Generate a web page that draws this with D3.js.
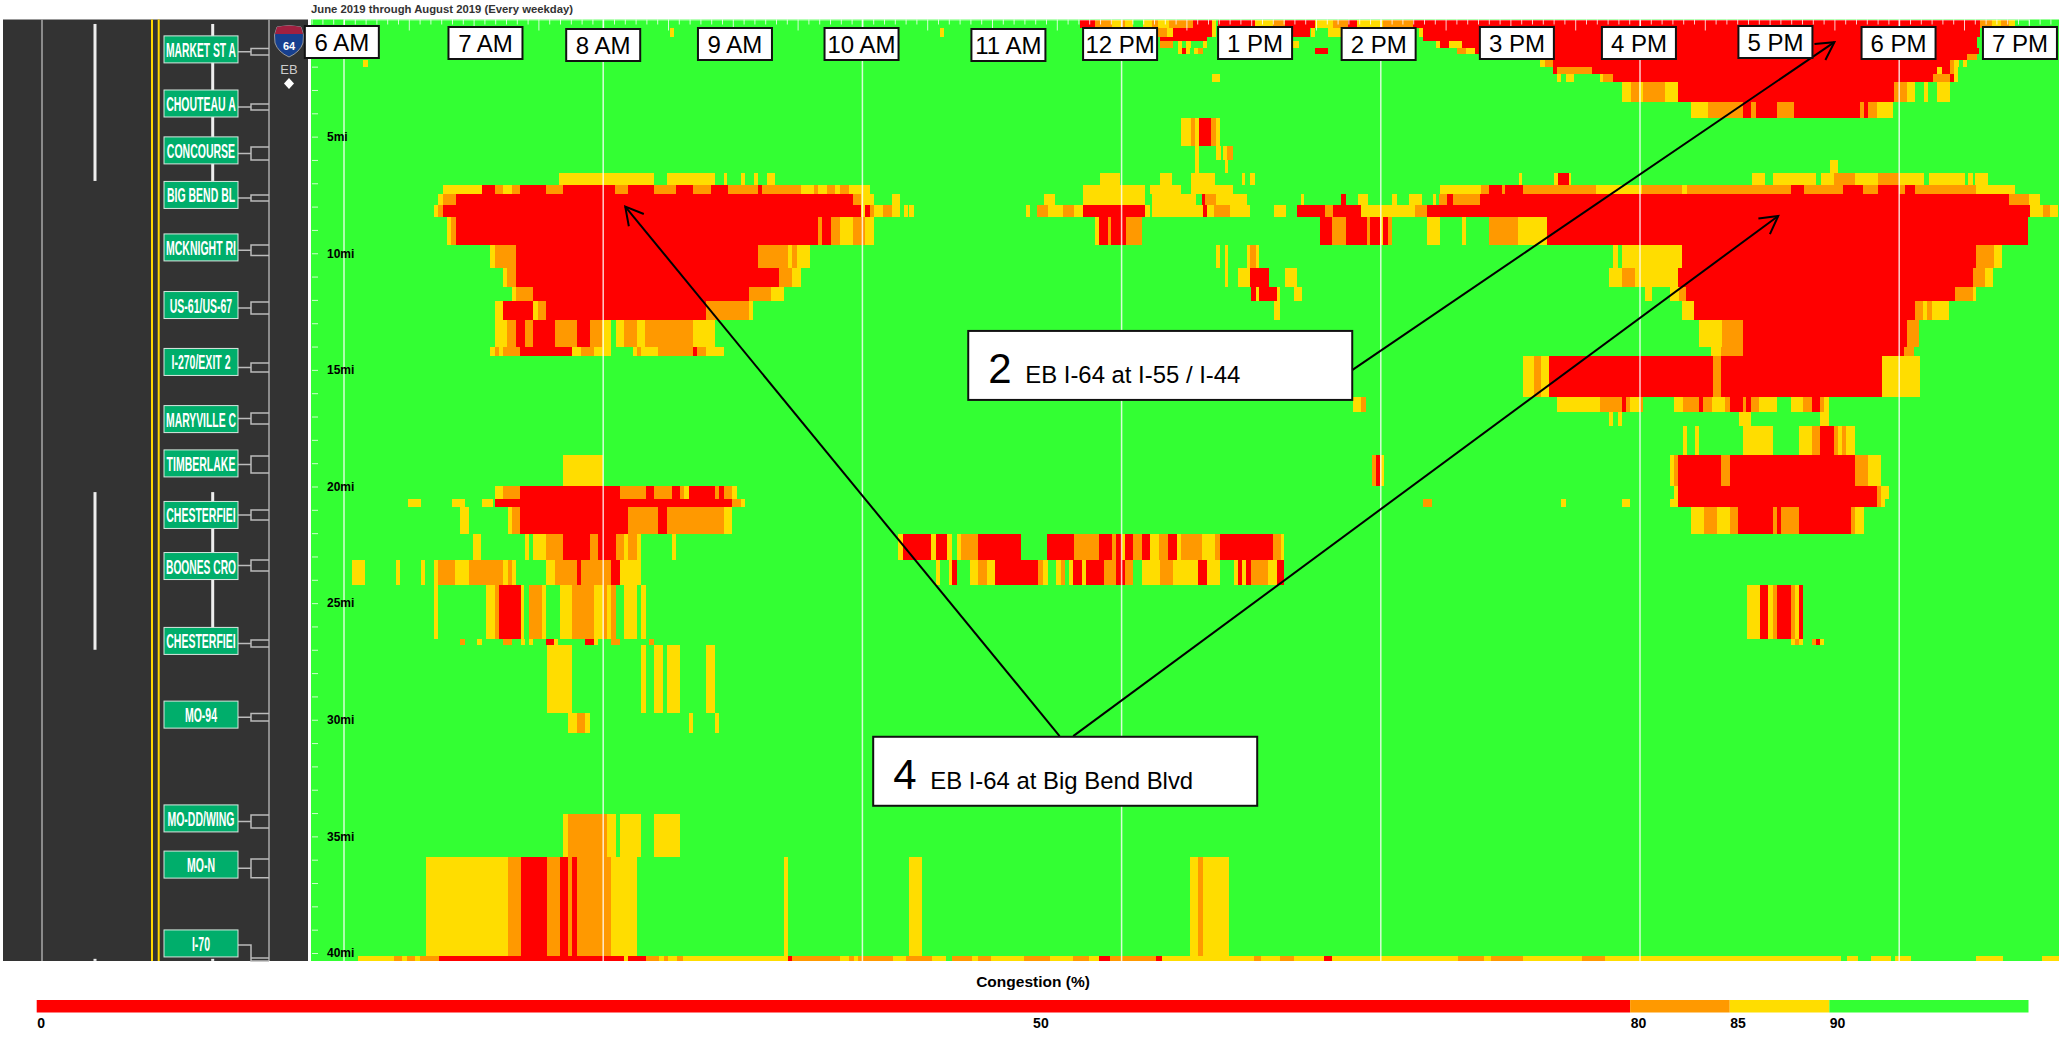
<!DOCTYPE html>
<html>
<head>
<meta charset="utf-8">
<script src="https://cdnjs.cloudflare.com/ajax/libs/d3/7.8.5/d3.min.js"></script>
<style>
  body { margin: 0; background: #fff; }
  svg { display: block; font-family: "Liberation Sans", Arial, sans-serif; }
</style>
</head>
<body>
<div id="chart"></div>
<script>
// congestion class values, coloured by the threshold scale below
const R = 65, O = 83, Y = 88, FREE = 95;

// mile boundaries of the road segments (rows of the heatmap)
const rowEdges = [0, .33, .72, .90, 1.21, 1.47, 1.71, 2.00, 2.33, 2.66, 3.53, 4.21, 5.40, 6.00, 6.56, 7.07,
    7.47, 7.93, 8.45, 9.65, 10.62, 11.45, 12.05, 12.86, 14.02, 14.39, 16.17, 16.79, 17.41, 18.65, 19.98,
    20.55, 20.87, 22.04, 23.14, 24.24, 26.54, 26.81, 29.71, 30.57, 34.04, 35.90, 40.13, 40.34];

// congested spans per row: [start, end, value], minutes after 6 AM
const rowSpans = [
    [[340.8,347.7,R],[347.7,355.4,O],[355.4,359.7,Y],[359.7,361.6,O],[361.6,365.4,Y],[369.8,374,Y],[374,377,O],[377,382,Y],[382,393.2,O],[393.2,401.7,R],[401.7,403.7,Y],[404.8,421.8,R],[421.8,430.3,Y],[430.3,435.6,O],[435.6,449.5,R],[449.5,458,Y],[458,465,O],[465,468.9,R],[468.9,481,Y],[481,495,O],[495,757.4,R],[757.4,763,O],[763,767,Y],[767,771,O],[771,773.6,Y]],
    [[151,153,Y],[276,278,Y],[377,381,O],[381,384,Y],[384,401.7,R],[401.7,403.7,Y],[439.5,447.2,R],[447.5,449.5,Y],[455.7,461.9,Y],[497.8,499.7,Y],[499.7,757.4,R]],
    [[377.8,399.4,R],[499.7,756,R]],
    [[377.8,384,O],[386,388,Y],[390,392,Y],[397.9,399.4,Y],[439.5,441.9,Y],[505.5,507.5,Y],[507.5,511.7,R],[511.7,517.4,Y],[517.4,755.8,R]],
    [[386,387.8,Y],[387.8,389.8,R],[389.8,391.6,Y],[393.5,395.5,Y],[395.5,397.9,O],[449.5,455.7,R],[515.4,519.4,O],[519.4,523.6,Y],[523.6,757,R]],
    [[526,751.5,R],[751.5,755.8,O]],
    [[9,11,Y],[553.7,556,Y],[556,559.6,O],[559.6,743.5,R],[743.5,745.5,O],[745.5,747.5,Y],[749.7,751.5,Y]],
    [[559.6,561.7,R],[561.7,577.6,O],[577.6,737.3,R],[737.3,739.6,Y],[739.6,743.5,R],[743.5,745.5,O],[745.5,747.4,Y]],
    [[401.7,405.6,Y],[561.7,563.6,Y],[565.7,569.6,Y],[581.4,583,Y],[583,587.6,O],[587.6,735.8,R],[735.8,743.5,O],[743.5,745.5,R],[745.5,747.4,Y]],
    [[591.7,595.7,Y],[595.7,599.7,O],[599.7,601.5,Y],[601.5,611.6,O],[611.6,617.4,Y],[617.4,717.6,R],[717.6,723.4,O],[723.4,727.3,Y],[731.5,733.5,Y],[737.6,743.5,Y]],
    [[623.6,631.6,Y],[631.6,647.8,O],[647.8,651.4,R],[651.4,653.5,O],[653.5,663.6,R],[663.6,671.4,O],[671.4,701.8,R],[701.8,703.7,O],[703.7,705.7,R],[705.7,709.5,O],[709.5,717.3,Y]],
    [[387.5,392,Y],[392,394,O],[394,396,Y],[396,401.6,R],[401.6,403.5,O],[403.5,405.4,Y]],
    [[394,396,Y],[403.8,406,Y],[407,409,Y],[409,411.6,O]],
    [[394,396,Y],[407.9,409.4,Y],[687.8,691.6,Y]],
    // 6.56 mi, just upstream of Big Bend
    [[99.7,143.5,Y],[149.5,171.8,Y],[176,177.3,Y],[183.8,185.6,Y],[189.8,191.7,Y],[195.8,199.5,Y],[350,359.4,Y],[377.8,383.5,Y],[391.9,403.2,Y],[415.7,417.2,Y],[419.4,421.6,Y],[544,545.5,Y],[560,562,Y],[562,567,R],[567,568,Y],[651.8,657.8,Y],[661.8,681.6,Y],[683.8,690,Y],[690,699.4,O],[699.4,710.3,Y],[710.3,719.7,O],[719.7,731.6,Y],[733.8,750.4,Y],[752,754,Y],[755,761.3,Y]],
    [[45.7,63.7,Y],[63.7,69.7,R],[69.7,73.7,O],[73.7,77.7,Y],[77.7,81.7,O],[81.7,93.6,R],[93.6,101.6,O],[101.6,125.5,R],[125.5,131.6,O],[131.6,143.5,R],[143.5,153.6,O],[153.6,161.7,R],[161.7,169.7,O],[169.7,177.6,R],[177.6,191.7,O],[191.7,193.6,R],[193.6,211.4,O],[211.4,217.7,Y],[217.7,219.6,O],[219.6,223.6,Y],[223.6,227.5,O],[227.5,229.6,Y],[229.6,233.6,O],[233.6,243.5,Y],[341.9,371,Y],[373,387.5,Y],[392,411.6,Y],[507.6,526.4,Y],[526.4,530,O],[530,536,R],[536,537.5,O],[537.5,546,R],[546,579.6,O],[579.6,601,Y],[601,604.6,O],[604.6,619.6,O],[619.6,621.8,Y],[621.8,669.7,O],[669.7,676,R],[676,694,O],[694,703.4,R],[703.4,710.3,O],[710.3,719.7,R],[719.7,722.8,O],[722.8,727.5,R],[727.5,755.7,O],[755.7,773.8,Y]],
    [[43.6,45.7,Y],[45.7,51.7,O],[51.7,235.5,R],[235.5,239.5,O],[239.5,245.4,Y],[253.8,257.3,Y],[324,329.3,Y],[341.9,371,Y],[374,394.4,Y],[397,398.5,R],[398.5,403.8,O],[403.8,417.9,Y],[443,444.5,Y],[461.7,463.9,R],[469.5,474,Y],[485,487.6,Y],[493,499.2,Y],[504,505.5,Y],[507,510.5,O],[510.5,513.5,R],[513.5,526,O],[526,771,R],[771,780,O],[780,785.4,Y]],
    [[41.7,43.6,Y],[43.6,45.7,O],[45.7,239.5,R],[239.5,241.4,Y],[241.4,243.5,R],[243.5,245.4,O],[245.4,249.5,Y],[249.5,253.5,O],[253.5,257.3,Y],[259.4,261.3,Y],[261.8,263.7,Y],[315.6,317.8,Y],[321,326,O],[326,333,Y],[333,338,O],[338,341.9,Y],[341.9,371,R],[371,373,Y],[374,397.5,Y],[397.5,399.4,R],[399.4,403,Y],[403,410,O],[410,419.4,Y],[430.4,436,Y],[441.3,454,R],[454,458,O],[458,471,R],[471,496,Y],[496,501.4,O],[501.4,780.7,R],[780.7,786.5,Y],[786.5,790,O],[790,793.3,Y]],
    [[47.6,49.7,Y],[49.7,51.7,O],[51.7,219.6,R],[219.6,221.5,O],[221.5,225.5,R],[225.5,229.6,O],[229.6,235.5,Y],[235.5,241.4,O],[241.4,245.4,Y],[347.5,349.7,Y],[349.7,353.7,R],[353.7,355.3,O],[355.3,362.2,R],[362.2,369.4,O],[451.7,457.6,R],[457.6,463.9,O],[463.9,473.5,R],[473.5,475,O],[475,479.5,R],[479.5,481,Y],[481,483.5,R],[483.5,485,O],[501.4,507.6,Y],[517.7,519.5,Y],[530.2,543.6,O],[543.6,557,Y],[557,779.8,R]],
    [[67.7,69.7,Y],[69.7,79.6,O],[79.6,191.7,R],[191.7,205.5,O],[205.5,207.6,Y],[207.6,209.5,O],[209.5,215.6,Y],[403.8,405.7,Y],[407.9,409.4,Y],[417.9,419.4,Y],[419.4,422,O],[422,423.5,Y],[587.7,589.6,Y],[591.5,619.6,Y],[619.6,755.7,R],[755.7,764,O],[764,767.6,Y]],
    [[73.7,75.6,Y],[75.6,79.6,O],[79.6,201.6,R],[201.6,207.6,O],[207.6,211.4,Y],[407.9,409.4,Y],[413.8,419.4,Y],[419.4,428.2,R],[435.7,441.3,Y],[585.8,591.5,Y],[591.5,597.7,O],[597.7,617.4,Y],[617.4,754,R],[754,759.7,O],[759.7,763.5,Y]],
    [[77.7,79.6,Y],[79.6,87.6,O],[87.6,187.5,R],[187.5,197.6,O],[197.6,203.6,Y],[420,422,R],[422,423.5,Y],[423.5,432,R],[432,433.5,Y],[439.8,443.5,Y],[602.4,605.5,Y],[614,618,Y],[618,621.5,O],[621.5,745.7,R],[745.7,754,O],[754,755.5,Y]],
    [[69.7,73.7,Y],[73.7,87.6,R],[87.6,89.7,Y],[89.7,93.6,O],[93.6,167.6,R],[167.6,187.5,O],[187.5,189.5,Y],[430.4,433.5,Y],[619.6,625,Y],[625,727.5,R],[727.5,731,O],[731,733,Y],[733,735,O],[735,743,Y]],
    [[69.7,75.6,Y],[75.6,79.6,O],[79.6,83.6,R],[83.6,87.6,O],[87.6,97.8,R],[97.8,107.7,O],[107.7,113.7,R],[113.7,119.6,O],[119.6,123.6,Y],[125.7,129.7,Y],[129.7,135.6,O],[135.6,139.5,Y],[139.5,161.7,O],[161.7,171.8,Y],[627.4,637.8,Y],[637.8,647.8,O],[647.8,723.5,R],[723.5,729,O]],
    [[67.7,69.7,Y],[69.7,71.6,O],[71.6,73.7,Y],[73.7,81.7,O],[81.7,105.6,R],[105.6,107.7,Y],[107.7,109.6,Y],[109.6,115.6,O],[115.6,123.6,Y],[133.7,135.6,Y],[135.6,137.6,O],[137.6,145.6,Y],[145.6,161.5,O],[161.5,163.5,R],[163.5,167.6,O],[167.6,175.7,Y],[633,637.5,Y],[637.5,647.8,O],[647.8,722,R],[722,727,O]],
    // 14.39 mi
    [[546,550.8,Y],[550.8,554,O],[554,557.7,Y],[557.7,633.7,R],[633.7,637.5,O],[637.5,711.9,R],[711.9,729.7,Y]],
    [[467.3,471,Y],[471,473.2,O],[561.6,581.4,Y],[581.4,591.5,O],[591.5,593.5,R],[593.5,595.3,O],[595.3,600,Y],[600,601.5,O],[615.6,619.7,Y],[619.7,627.3,O],[627.3,629.2,R],[629.2,633.5,O],[633.5,639.5,Y],[639.5,641.6,O],[641.6,647.7,R],[647.7,649.3,O],[649.3,651.5,R],[651.5,655.3,O],[655.3,663.4,Y],[669.7,675.5,Y],[675.5,679.6,O],[679.6,683.4,R],[683.4,685.4,O],[685.4,687.3,Y]],
    [[585.7,587.5,Y],[589.7,591.5,Y],[645.8,651.4,Y],[683.4,687.5,Y]],
    [[619.7,621.7,Y],[625.6,627.3,Y],[647.7,661.4,Y],[673.5,679.6,Y],[679.6,683.4,O],[683.4,689.6,R],[689.6,691.5,O],[691.5,693.6,Y],[693.6,695.3,O],[695.3,699.4,Y]],
    [[101.6,119.9,Y],[476,477.7,O],[477.7,479.6,R],[479.6,481.4,Y],[613.7,615.6,Y],[615.6,617.4,O],[617.4,637.7,R],[637.7,641.5,O],[641.5,699.7,R],[699.7,705.5,O],[705.5,711.6,Y]],
    // 20 mi, Chesterfield
    [[69.7,73.5,Y],[73.5,81.5,O],[81.5,127.8,R],[127.8,139.6,O],[139.6,143.5,R],[143.5,151.8,O],[151.8,155.6,R],[155.6,157.6,O],[157.6,159.7,Y],[159.7,171.8,R],[171.8,173.8,O],[173.8,175.9,R],[175.9,179.8,O],[179.8,181.9,Y],[615.6,617.4,Y],[617.4,709.6,R],[709.6,711.6,O],[711.6,715.4,Y]],
    [[29.8,35.7,Y],[49.9,55.8,Y],[63.8,68.8,Y],[69.7,179.8,R],[179.8,183.6,O],[183.6,185.7,Y],[499.6,503.5,O],[563.6,565.6,Y],[591.5,595.4,Y],[613.7,617.4,Y],[617.4,709.6,R],[709.6,711.6,O],[711.6,713.4,Y]],
    [[53.7,57.8,Y],[75.9,77.8,Y],[77.8,81.5,O],[81.5,131.7,R],[131.7,145.6,O],[145.6,149.7,R],[149.7,175.7,O],[175.7,179.5,Y],[623.8,629.6,Y],[629.6,635.7,O],[635.7,641.6,Y],[641.6,645.6,O],[645.6,661.4,R],[661.4,663.4,O],[663.4,665.5,R],[665.5,673.5,O],[673.5,697.7,R],[697.7,699.7,O],[699.7,703.5,Y]],
    // 22 mi, eleven o'clock band starts here
    [[59.9,63.5,Y],[83.6,85.6,Y],[87.7,93.6,Y],[93.6,101.6,O],[101.6,113.9,R],[113.9,117.8,O],[117.8,125.8,R],[125.8,129.6,O],[129.6,131.7,Y],[131.7,135.5,O],[135.5,137.6,Y],[151.8,153.8,Y],[256.3,258.6,Y],[258.6,271.9,R],[271.9,273.9,Y],[273.9,279.3,R],[279.3,281.4,Y],[283.8,285.6,Y],[285.6,293.5,O],[293.5,313.6,R],[325.4,337.8,R],[337.8,349.6,O],[349.6,355.5,R],[355.5,357.6,O],[357.6,360,R],[360,361.5,Y],[361.5,365.5,R],[365.5,369.4,O],[369.4,373.2,R],[373.2,377.2,Y],[377.2,381.6,O],[381.6,385.6,R],[385.6,387.7,Y],[387.7,397.4,O],[397.4,403.4,Y],[403.4,405.7,O],[405.7,429.9,R],[429.9,434,O],[434,435.2,Y]],
    [[3.8,9.7,Y],[23.9,25.7,Y],[35.7,37.5,Y],[41.6,43.4,Y],[43.4,51.6,O],[51.6,57.8,Y],[57.8,73.5,O],[73.5,75.7,Y],[75.7,77.7,O],[77.7,79.7,Y],[93.6,97.7,Y],[97.7,107.8,O],[107.8,109.8,R],[109.8,123.7,O],[123.7,127.8,R],[127.8,137.6,Y],[274,275.8,Y],[280,281.7,Y],[281.7,283.8,R],[289.7,293.5,Y],[293.5,297.9,O],[297.9,301.5,Y],[301.5,321.5,R],[321.5,323.5,O],[323.5,325.7,Y],[329.8,331.9,Y],[331.9,333.7,O],[335.5,337.5,Y],[337.5,341.6,R],[341.6,343.7,Y],[343.7,351.7,R],[351.7,357.6,O],[357.6,361.4,R],[361.4,365.5,O],[369.4,377.7,Y],[377.7,383.6,O],[383.6,395.4,Y],[395.4,399.5,R],[399.5,405.7,Y],[412,413.7,Y],[413.7,415.7,R],[415.7,417.8,Y],[417.8,419.8,R],[419.8,427.9,O],[427.9,432,Y],[432,435.2,R]],
    [[41.6,43.4,Y],[65.8,69.7,Y],[69.7,71.7,O],[71.7,81.8,R],[81.8,83.5,Y],[85.6,91.8,O],[91.8,93.6,Y],[99.8,105.7,Y],[105.7,115.7,O],[115.7,119.9,Y],[119.9,121.7,O],[121.7,123.7,Y],[123.7,125.8,O],[129.6,135.5,Y],[137.6,139.6,Y],[649.5,655.5,Y],[655.5,659.4,R],[659.4,661.6,Y],[661.6,663.6,O],[663.6,669.7,R],[669.7,671.7,O],[671.7,673.6,Y],[673.6,675.6,R]],
    [[53.7,55.8,O],[61.7,63.8,Y],[73.5,77.6,O],[81.8,83.8,Y],[85.6,87.6,Y],[93.6,97.1,R],[97.1,99,Y],[111.6,115.7,R],[115.7,117.6,Y],[123.7,127.8,O],[141.4,143.5,O],[669.7,671.7,Y],[671.7,673.6,O],[673.6,675.6,Y],[679.6,681.6,O],[681.6,683.4,R],[683.4,685.4,Y]],
    [[93.9,105.7,Y],[137.6,139.6,Y],[143.5,147.6,Y],[149.7,155.6,Y],[167.7,171.8,Y]],
    [[103.6,107.8,Y],[107.8,111.6,O],[111.6,113.7,Y],[159.7,161.5,Y],[171.8,173.6,Y]],
    [],
    // 34 mi, MO-DD
    [[101.6,103.6,Y],[103.6,121.7,O],[121.7,125.8,Y],[127.8,137.6,Y],[143.5,155.6,Y]],
    [[37.8,75.9,Y],[75.9,81.8,O],[81.8,93.9,R],[93.9,99.8,O],[99.8,103.6,R],[103.6,105.7,O],[105.7,107.8,R],[107.8,123.7,O],[123.7,135.5,Y],[203.7,205.5,Y],[261.6,267.5,Y],[391.5,395.4,Y],[395.4,397.7,O],[397.7,409.6,Y]],
    // last strip at the bottom edge
    [[6.7,23,Y],[23,27,O],[27,29,Y],[29,33,O],[33,35,Y],[35,43.8,O],[43.8,129.5,R],[129.5,131.5,Y],[131.5,139.8,R],[139.8,146,O],[146,148,Y],[148,150,O],[150,154,Y],[154,156.9,O],[156.9,205.5,Y],[205.5,207.3,R],[207.3,229.8,O],[229.8,234,Y],[234,236,O],[236,238,Y],[238,254,O],[254,260,Y],[260,272,O],[272,278.5,Y],[281.5,290.6,O],[290.6,293.7,Y],[293.7,299.7,O],[299.7,315,Y],[315,327,O],[327,337.4,Y],[337.4,345,O],[345,349.6,Y],[349.6,354.5,R],[354.5,375.7,O],[375.7,378.8,R],[378.8,421.3,Y],[421.3,424.4,O],[424.4,433.5,Y],[433.5,439.6,O],[439.6,453.6,Y],[453.6,457.2,R],[457.2,515.6,Y],[515.6,527.7,O],[527.7,530.8,Y],[530.8,546,O],[546,573.3,Y],[573.3,583.7,O],[583.7,688.9,Y],[689,693,Y],[696,701,Y],[707,716.2,Y],[718,725.3,Y],[755.7,767.9,Y],[786,794,Y]]
];

// legend
const legendStops = [0, 80, 85, 90, 100];
const legendTicks = [0, 50, 80, 85, 90];

// time labels, centred by hand in the original (minutes after 6 AM)
const hourLabels = ["6 AM", "7 AM", "8 AM", "9 AM", "10 AM", "11 AM", "12 PM", "1 PM", "2 PM", "3 PM", "4 PM", "5 PM", "6 PM", "7 PM"];
const hourLabelMinutes = [-1, 65.5, 120, 181, 239.6, 307.6, 359.3, 421.8, 479, 543, 599.5, 662.7, 719.7, 775.9];
const hourLabelTops = [26, 27, 29, 28, 28, 29, 28, 27, 28, 27, 27, 26, 27, 27];

// road signs: name, mile of the sign centre, ramp bracket from/to in miles
const signNames = ["MARKET ST A", "CHOUTEAU A", "CONCOURSE", "BIG BEND BL", "MCKNIGHT RI", "US-61/US-67", "I-270/EXIT 2", "MARYVILLE C", "TIMBERLAKE", "CHESTERFIEI", "BOONES CRO", "CHESTERFIEI", "MO-94", "MO-DD/WING", "MO-N", "I-70"];
const signMiles = [1.26, 3.58, 5.59, 7.50, 9.75, 12.22, 14.66, 17.11, 19.01, 21.22, 23.41, 26.62, 29.78, 34.23, 36.21, 39.59];
const rampFrom = [1.22, 3.60, 5.44, 7.50, 9.65, 12.09, 14.71, 16.85, 18.69, 21.01, 23.15, 26.58, 29.73, 34.08, 35.97, 40.21];
const rampTo = [1.50, 3.86, 6.00, 7.76, 10.10, 12.60, 15.09, 17.32, 19.42, 21.44, 23.62, 26.88, 30.05, 34.64, 36.77, 40.34];
const laneDashes = [[.17, 6.9], [20.24, 27.0], [40.25, 40.34]];

const width = 2059, height = 1037;
const plot = {left: 311, right: 2059, top: 19.5, bottom: 961};

const svg = d3.select("#chart").append("svg")
    .attr("width", width)
    .attr("height", height);

svg.append("defs").append("marker")
    .attr("id", "arrow")
    .attr("markerUnits", "userSpaceOnUse")
    .attr("viewBox", "-20 -12 22 24")
    .attr("refX", 0).attr("refY", 0)
    .attr("markerWidth", 22).attr("markerHeight", 24)
    .attr("orient", "auto")
  .append("path")
    .attr("d", "M-17.5,-9.7L0,0L-17.5,9.7")
    .attr("fill", "none")
    .attr("stroke", "#000")
    .attr("stroke-width", 2);

// scales
const xScale = d3.scaleLinear().domain([0, 780]).range([344, 344 + 2.16 * 780]);
const yScale = d3.scaleLinear().domain([0, 40]).range([20, 953]);
const colorScale = d3.scaleThreshold()
    .domain([80, 85, 90])
    .range(["#ff0000", "#ff9900", "#ffdd00", "#33ff33"]);
const legendScale = d3.scaleLinear().domain([0, 100]).range([36.7, 2028.5]);

// heatmap
svg.append("rect")
    .attr("x", plot.left).attr("y", plot.top)
    .attr("width", plot.right - plot.left).attr("height", plot.bottom - plot.top)
    .attr("fill", colorScale(FREE));

const cells = rowSpans.flatMap((spans, i) => spans.map(([start, end, value]) => ({
    start, end, value, from: rowEdges[i], to: rowEdges[i + 1]
})));

svg.append("g").selectAll("rect")
    .data(cells)
    .join("rect")
        .attr("x", d => xScale(d.start))
        .attr("y", d => yScale(d.from))
        .attr("width", d => xScale(d.end) - xScale(d.start))
        .attr("height", d => yScale(d.to) - yScale(d.from))
        .attr("fill", d => colorScale(d.value))
        .attr("shape-rendering", "crispEdges");

// even hour gridlines
const gridMinutes = d3.range(0, 780, 120);
svg.append("g").selectAll("line")
    .data(gridMinutes)
    .join("line")
        .attr("x1", d => xScale(d)).attr("x2", d => xScale(d))
        .attr("y1", plot.top).attr("y2", plot.bottom)
        .attr("stroke", "#fff")
        .attr("stroke-opacity", 0.8)
        .attr("stroke-width", 1.5);

// top time ticks, every 5 minutes, longer on the half hour
const timeAxis = svg.append("g")
    .attr("transform", `translate(0,${plot.top})`)
    .call(d3.axisBottom(xScale)
        .tickValues(d3.range(-15, 795, 5))
        .tickFormat("")
        .tickSize(5));
timeAxis.select(".domain").attr("stroke", "#fff").attr("opacity", 0.6);
timeAxis.selectAll(".tick line")
    .attr("stroke", "#fff")
    .attr("stroke-opacity", 0.8)
    .attr("y2", d => d % 30 === 0 ? 11 : 5);

// mile axis inside the plot
const mileAxis = svg.append("g")
    .attr("transform", `translate(${plot.left + 1},0)`)
    .call(d3.axisRight(yScale)
        .tickValues(d3.range(1, 41))
        .tickSize(6)
        .tickPadding(9)
        .tickFormat(d => d % 5 === 0 ? d + "mi" : ""));
mileAxis.select(".domain").remove();
mileAxis.selectAll(".tick line").attr("stroke", "#fff").attr("stroke-opacity", 0.75);
mileAxis.selectAll(".tick text")
    .attr("fill", "#000")
    .attr("font-family", "Liberation Sans, Arial, sans-serif")
    .attr("font-weight", "bold")
    .attr("font-size", 12);

// road panel on the left
const road = svg.append("g");
road.append("rect")
    .attr("x", 3).attr("y", plot.top)
    .attr("width", 305).attr("height", plot.bottom - plot.top)
    .attr("fill", "#333");
road.append("line")
    .attr("x1", 3).attr("x2", 308)
    .attr("y1", plot.top).attr("y2", plot.top)
    .attr("stroke", "#999");

[42, 269].forEach(x => road.append("line")
    .attr("x1", x).attr("x2", x)
    .attr("y1", plot.top).attr("y2", plot.bottom)
    .attr("stroke", "#aaa")
    .attr("stroke-width", 1.5));

[152, 158.7].forEach(x => road.append("line")
    .attr("x1", x).attr("x2", x)
    .attr("y1", plot.top).attr("y2", plot.bottom)
    .attr("stroke", "#ffd700")
    .attr("stroke-width", 2));

[95, 212.7].forEach(x => road.selectAll(null)
    .data(laneDashes)
    .join("line")
        .attr("x1", x).attr("x2", x)
        .attr("y1", d => yScale(d[0]))
        .attr("y2", d => yScale(d[1]))
        .attr("stroke", "#eee")
        .attr("stroke-width", 3));

// ramp brackets
const ramps = road.append("g").selectAll("path")
    .data(signNames)
    .join("path")
        .attr("d", (d, i) => {
            const top = yScale(rampFrom[i]), bottom = yScale(rampTo[i]);
            const mid = d === "I-70" ? yScale(signMiles[i]) + 1.5 : (top + bottom) / 2;
            const midEnd = d === "I-70" ? `V${top}` : "";
            return `M238,${mid}H251${midEnd}M269,${top}H251V${bottom}H269`;
        })
        .attr("fill", "none")
        .attr("stroke", "#bbb")
        .attr("stroke-width", 1.5);

// green signs
const signs = road.append("g").selectAll("g")
    .data(signNames)
    .join("g")
        .attr("transform", (d, i) => `translate(164,${yScale(signMiles[i]) - 13.5})`);

signs.append("rect")
    .attr("width", 74).attr("height", 27)
    .attr("fill", "#00ae6b")
    .attr("stroke", "#d8e8e0")
    .attr("stroke-width", 1);

signs.append("text")
    .attr("x", 37)
    .attr("y", 21)
    .attr("text-anchor", "middle")
    .attr("fill", "#fff")
    .attr("font-weight", "bold")
    .attr("font-size", 21)
    .text(d => d)
    .attr("textLength", function() { return Math.min(70, this.getComputedTextLength() * 0.5); })
    .attr("lengthAdjust", "spacingAndGlyphs");

// interstate shield
const shield = road.append("g").attr("transform", "translate(289,26)");
const shieldPath = "M-12,1Q0,-2 12,1Q16,9 14,17Q11,26 0,31Q-11,26 -14,17Q-16,9 -12,1Z";
shield.append("path").attr("d", shieldPath).attr("fill", "#17408f").attr("stroke", "#999").attr("stroke-width", 1);
shield.append("path").attr("d", "M-12,1Q0,-2 12,1L14,8H-14Z").attr("fill", "#a02040");
shield.append("text")
    .attr("y", 24).attr("text-anchor", "middle")
    .attr("fill", "#fff").attr("font-weight", "bold").attr("font-size", 11)
    .text("64");

road.append("text")
    .attr("x", 289).attr("y", 74)
    .attr("text-anchor", "middle")
    .attr("fill", "#ccc")
    .attr("font-size", 13)
    .text("EB");
road.append("path")
    .attr("d", "M289,78L294,83.5L289,89L284,83.5Z")
    .attr("fill", "#fff");

// date range title
svg.append("text")
    .attr("x", 311).attr("y", 13)
    .attr("fill", "#333")
    .attr("font-size", 11.3)
    .attr("font-weight", "bold")
    .text("June 2019 through August 2019 (Every weekday)");

// callout arrows, endpoints given in plot units
const arrows = [
    {from: [331.3, 30.7], to: [130.2, 8.0]},
    {from: [337.6, 30.7], to: [664, 8.4]},
    {from: [466.9, 15.0], to: [690, 0.95]}
];
svg.append("g").selectAll("line")
    .data(arrows)
    .join("line")
        .attr("x1", d => xScale(d.from[0])).attr("y1", d => yScale(d.from[1]))
        .attr("x2", d => xScale(d.to[0])).attr("y2", d => yScale(d.to[1]))
        .attr("stroke", "#000")
        .attr("stroke-width", 2)
        .attr("marker-end", "url(#arrow)");

// callout boxes
const callouts = [
    {num: "2", text: "EB I-64 at I-55 / I-44", minute: 289, mile: 13.33, w: 384, h: 69},
    {num: "4", text: "EB I-64 at Big Bend Blvd", minute: 245, mile: 30.73, w: 384, h: 69}
];
const calloutGroups = svg.append("g").selectAll("g")
    .data(callouts)
    .join("g")
        .attr("transform", d => `translate(${xScale(d.minute)},${yScale(d.mile)})`);
calloutGroups.append("rect")
    .attr("width", d => d.w).attr("height", d => d.h)
    .attr("fill", "#fff").attr("stroke", "#111").attr("stroke-width", 2);
calloutGroups.append("text")
    .attr("x", 20).attr("y", 52)
    .attr("font-size", 42)
    .text(d => d.num);
calloutGroups.append("text")
    .attr("x", 57).attr("y", 52)
    .attr("font-size", 23.9)
    .text(d => d.text);

// hour labels
const hourGroups = svg.append("g").selectAll("g")
    .data(hourLabels)
    .join("g")
        .attr("transform", (d, i) => `translate(${xScale(hourLabelMinutes[i])},${hourLabelTops[i]})`);
hourGroups.append("rect")
    .attr("x", -37).attr("width", 74).attr("height", 32)
    .attr("fill", "#fff").attr("stroke", "#111").attr("stroke-width", 2);
hourGroups.append("text")
    .attr("y", 24.5)
    .attr("text-anchor", "middle")
    .attr("font-size", 24)
    .text(d => d);

// legend
svg.append("text")
    .attr("x", 1033).attr("y", 987)
    .attr("text-anchor", "middle")
    .attr("font-weight", "bold")
    .attr("font-size", 15.5)
    .text("Congestion (%)");

svg.append("g").selectAll("rect")
    .data(d3.pairs(legendStops))
    .join("rect")
        .attr("x", d => legendScale(d[0]))
        .attr("y", 1000)
        .attr("width", d => legendScale(d[1]) - legendScale(d[0]))
        .attr("height", 12.5)
        .attr("fill", d => colorScale(d[0]));

const legendAxis = svg.append("g")
    .attr("transform", "translate(0,1012)")
    .call(d3.axisBottom(legendScale)
        .tickValues(legendTicks)
        .tickSize(0)
        .tickPadding(6));
legendAxis.select(".domain").remove();
legendAxis.selectAll(".tick text")
    .attr("text-anchor", "start")
    .attr("fill", "#000")
    .attr("font-family", "Liberation Sans, Arial, sans-serif")
    .attr("font-weight", "bold")
    .attr("font-size", 14);
</script>
</body>
</html>
